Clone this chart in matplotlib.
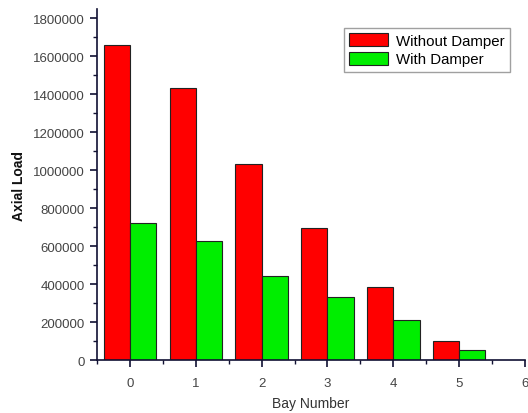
import matplotlib
matplotlib.use("Agg")
import matplotlib.pyplot as plt
from matplotlib.ticker import MultipleLocator
import numpy as np

bays = [0, 1, 2, 3, 4, 5]
without_damper = [1659000, 1435000, 1036000, 696000, 385000, 103000]
with_damper = [721000, 627000, 446000, 332000, 213000, 55000]
series_labels = ["Without Damper", "With Damper"]

plt.rcParams["font.family"] = ["Liberation Sans", "DejaVu Sans"]

fig = plt.figure(figsize=(5.28, 4.14), dpi=100)
ax = fig.add_axes([0.184, 0.127, 0.81, 0.849])

x = np.array(bays, dtype=float)
w = 0.4
ax.bar(x - w / 2, without_damper, width=w, color="#ff0000", edgecolor="#222222",
       linewidth=0.8, label=series_labels[0])
ax.bar(x + w / 2, with_damper, width=w, color="#00ee00", edgecolor="#222222",
       linewidth=0.8, label=series_labels[1])

ax.set_xlim(-0.5, 6)
ax.set_ylim(0, 1850000)
ax.xaxis.set_major_locator(MultipleLocator(1))
ax.xaxis.set_minor_locator(MultipleLocator(0.5))
ax.yaxis.set_major_locator(MultipleLocator(200000))
ax.yaxis.set_minor_locator(MultipleLocator(100000))
ax.tick_params(which="major", direction="out", length=5, width=1.2,
               color="#111133", labelsize=9.5, labelcolor="#444444")
ax.tick_params(axis="x", which="major", pad=7)
ax.tick_params(axis="y", which="major", pad=4)
ax.tick_params(which="minor", direction="out", length=3, width=1.0, color="#111133")
ax.ticklabel_format(axis="y", style="plain")

for side in ("top", "right"):
    ax.spines[side].set_visible(False)
for side in ("left", "bottom"):
    ax.spines[side].set_linewidth(1.2)
    ax.spines[side].set_color("#111133")

ax.set_xlabel("Bay Number", fontsize=10, color="#333333", labelpad=5)
ax.set_ylabel("Axial Load", fontsize=10, fontweight="bold", color="#111111", labelpad=5)

leg = ax.legend(loc="upper right", bbox_to_anchor=(0.966, 0.946), fontsize=10.8,
                frameon=True, fancybox=False, edgecolor="#888888",
                handlelength=2.6, handleheight=0.9, borderpad=0.35,
                labelspacing=0.3, handletextpad=0.55, borderaxespad=0)
leg.get_frame().set_linewidth(1.0)

fig.savefig("out.png", dpi=100)
